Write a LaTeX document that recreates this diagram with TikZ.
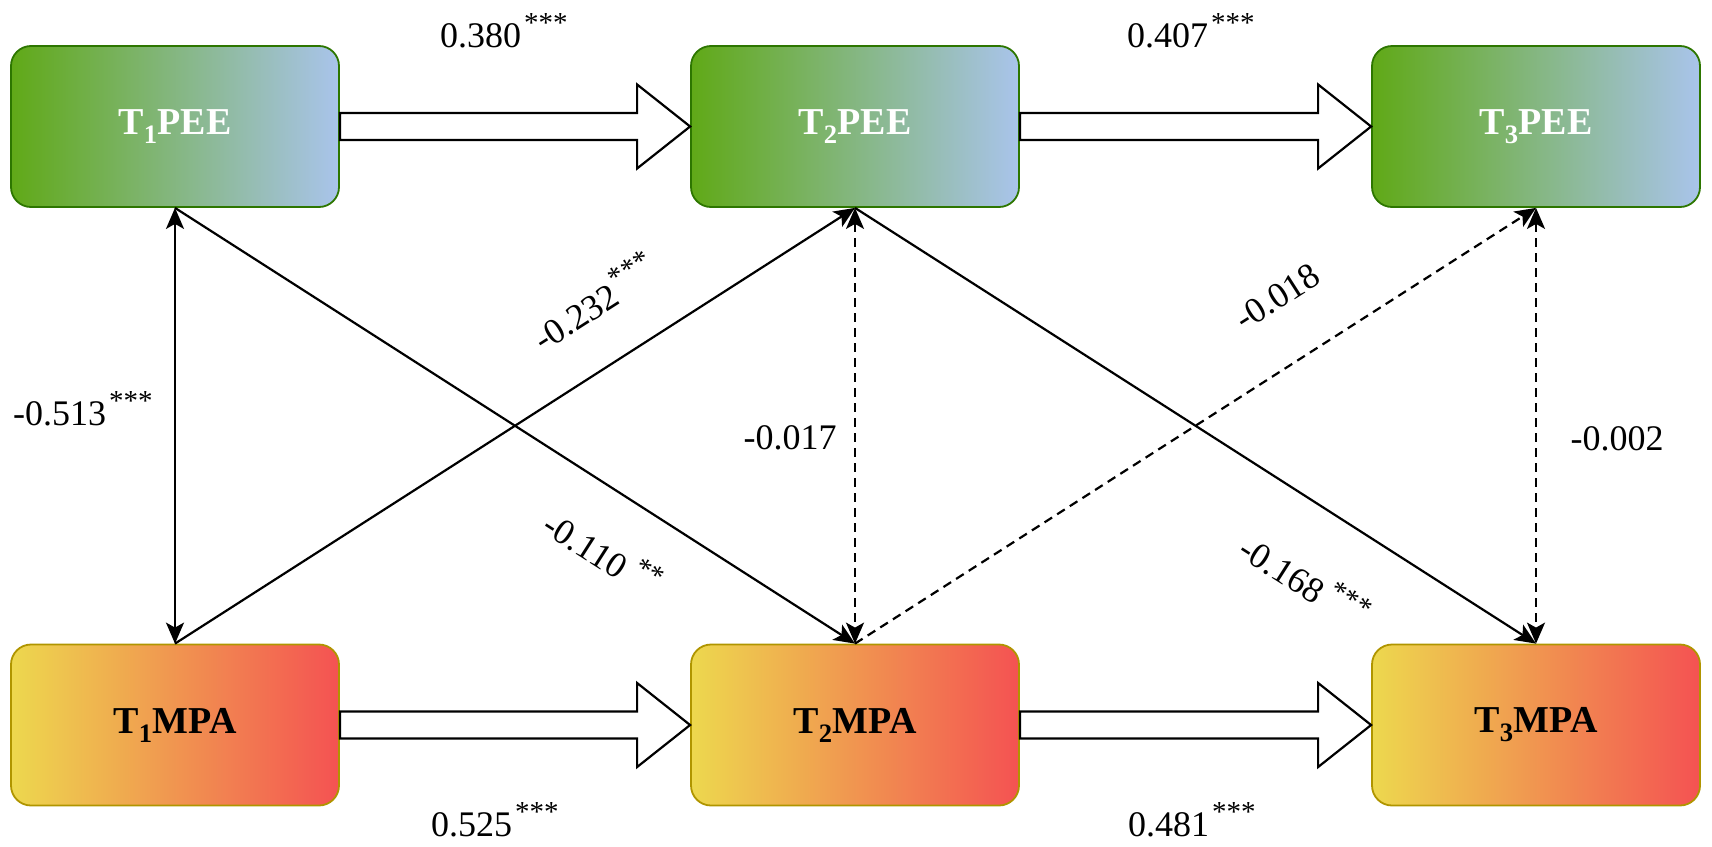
\documentclass[tikz,border=0pt]{standalone}
\usepackage{fontspec}
\setmainfont{Liberation Serif}
\usetikzlibrary{arrows.meta,calc}
\definecolor{gL}{HTML}{60A917}
\definecolor{gR}{HTML}{A9C4EB}
\definecolor{gB}{HTML}{2D7600}
\definecolor{yL}{HTML}{EDD84E}
\definecolor{yR}{HTML}{F45252}
\definecolor{yB}{HTML}{B09500}
\newcommand\sigstars[2][3pt]{\kern#1\raisebox{15pt}{\fontsize{29}{30}\selectfont #2}}
\begin{document}
\begin{tikzpicture}[x=1pt,y=-1pt,
  >={Stealth[length=21pt,width=18pt,inset=5pt]},
  boxbase/.style={line width=1.8pt, rounded corners=20pt, minimum width=328pt, minimum height=161pt, inner sep=0pt, font=\fontsize{38}{42}\selectfont\bfseries},
  pee/.style={boxbase, draw=gB, left color=gL, right color=gR, text=white},
  mpa/.style={boxbase, draw=yB, left color=yL, right color=yR, text=black},
  lbl/.style={font=\fontsize{36}{40}\selectfont, inner sep=0pt},
  conn/.style={line width=2.2pt, ->},
  dconn/.style={conn, dash pattern=on 9pt off 6pt},
  barrow/.style={draw=black, line width=2.2pt, fill=white, line join=miter}
]
\useasboundingbox (0,0) rectangle (1712,846);
% boxes
\node[pee] (p1) at (175,126.5) {T\textsubscript{1}PEE};
\node[pee] (p2) at (855,126.5) {T\textsubscript{2}PEE};
\node[pee] (p3) at (1536,126.5) {T\textsubscript{3}PEE};
\node[mpa] (m1) at (175,725) {T\textsubscript{1}MPA};
\node[mpa] (m2) at (855,725) {T\textsubscript{2}MPA};
\node[mpa] (m3) at (1536,725) {T\textsubscript{3}MPA};
% block arrows
\foreach \a/\b in {p1/p2,p2/p3,m1/m2,m2/m3}{
  \draw[barrow] ($(\a.east)+(0,-13.5)$) -- ($(\b.west)+(-53,-13.5)$) -- ($(\b.west)+(-53,-42)$) -- (\b.west) -- ($(\b.west)+(-53,42)$) -- ($(\b.west)+(-53,13.5)$) -- ($(\a.east)+(0,13.5)$) -- cycle;
}
% connectors
\draw[conn,<->] (p1.south) -- (m1.north);
\draw[conn] (p1.south) -- (m2.north);
\draw[conn] (m1.north) -- (p2.south);
\draw[dconn,<->] (p2.south) -- (m2.north);
\draw[conn] (p2.south) -- (m3.north);
\draw[dconn] (m2.north) -- (p3.south);
\draw[dconn,<->] (p3.south) -- (m3.north);
% labels
\node[lbl, anchor=base west] (l1) at (440,47) {0.380\sigstars{***}};
\node[lbl, anchor=base west] (l2) at (1127,47) {0.407\sigstars{***}};
\node[lbl, anchor=base west] (l3) at (431,836) {0.525\sigstars{***}};
\node[lbl, anchor=base west] (l4) at (1128,836) {0.481\sigstars{***}};
\node[lbl, anchor=base west] (l5) at (13,425) {-0.513\sigstars{***}};
\node[lbl] (l6) at (790,438) {-0.017};
\node[lbl] (l7) at (1617,439) {-0.002};
\node[lbl, rotate=32.6, anchor=base west] (l8) at (543,353) {-0.232\sigstars{***}};
\node[lbl, rotate=-32.6, anchor=base west] (l9) at (540,531) {-0.110\sigstars[8pt]{**}};
\node[lbl, rotate=32.6] (l10) at (1277,297) {-0.018};
\node[lbl, rotate=-32.6, anchor=base west] (l11) at (1236,555) {-0.168\sigstars[6pt]{***}};
\end{tikzpicture}
\end{document}
